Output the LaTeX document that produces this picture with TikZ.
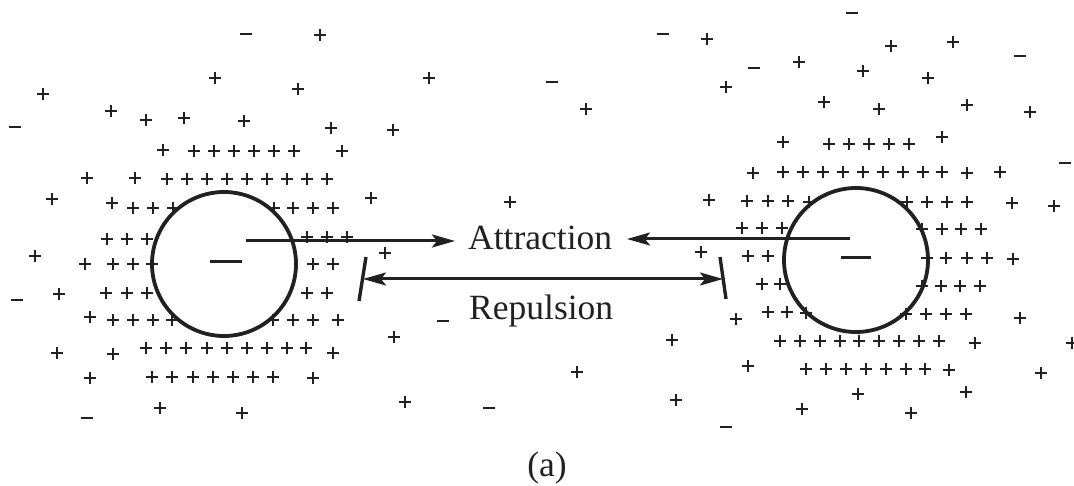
\documentclass[tikz,border=0pt]{standalone}
\usepackage{fontspec}
\setmainfont{Liberation Serif}
\usetikzlibrary{arrows.meta}
\definecolor{ink}{gray}{0.13}
\begin{document}
\begin{tikzpicture}[x=1pt,y=-1pt,
  plusline/.style={draw=ink, line width=2.5pt},
  minusline/.style={draw=ink, line width=2.4pt},
  bigminus/.style={draw=ink, line width=3pt},
  ring/.style={circle, draw=ink, line width=3.8pt, minimum size=144pt, inner sep=0pt},
  arr/.style={draw=ink, line width=3pt, -{Stealth[length=23pt,width=13pt,inset=5pt]}},
  arrboth/.style={draw=ink, line width=3pt, {Stealth[length=23pt,width=13pt,inset=5pt]}-{Stealth[length=23pt,width=13pt,inset=5pt]}},
  stopbar/.style={draw=ink, line width=3.4pt},
  lbl/.style={text=ink, font=\fontsize{35.5}{40}\selectfont, inner sep=0pt, anchor=base west}]
\useasboundingbox (0,0) rectangle (1074,486);
% plus charges
\foreach \x/\y in {
  215/78, 43/94, 111/111, 146/120, 184/118, 244/121, 298/89, 429/78, 331/128, 393/130, 320/35,
  163/150, 194/151, 214/151, 234/151, 254/151, 274/151, 294/151, 342/151,
  87/178, 135/178, 167/179, 187/179, 207/179, 227/179, 247/179, 267/179, 287/179, 307/179, 327/179,
  52/199, 371/198, 510/202,
  112/203, 133/208, 153/208, 173/208, 274/208, 293/208, 313/208, 333/208,
  107/239, 127/239, 147/239, 307/237, 327/237, 347/237,
  35/256, 385/253,
  85/264, 113/264, 133/264, 152/264, 313/264, 333/264,
  59/294, 106/293, 127/293, 147/293, 307/293, 327/293,
  90/317, 113/320, 133/320, 153/320, 172/320, 273/320, 293/320, 313/320, 338/320,
  394/337,
  57/353, 113/354, 146/348, 166/348, 186/348, 207/348, 227/348, 247/348, 267/348, 287/348, 306/348, 333/353,
  90/378, 152/377, 172/377, 193/377, 213/377, 233/377, 253/377, 273/377, 313/378,
  160/408, 242/413, 405/402,
  577/372, 676/400, 672/340, 736/319, 701/252,
  707/39, 953/42, 891/46, 799/62, 863/71, 928/78, 726/87, 586/109, 824/102, 967/105, 879/109, 1030/112, 942/137,
  783/142, 829/144, 849/144, 869/144, 889/144, 909/144,
  753/173, 783/172, 803/172, 823/172, 843/172, 863/172, 883/172, 903/172, 923/172, 942/172, 967/173, 1000/172,
  709/200, 747/201, 768/201, 788/201, 809/202, 907/202, 927/202, 947/202, 967/202, 1012/203, 1054/206,
  742/228, 762/228, 782/228, 922/229, 942/229, 961/229, 981/229,
  748/256, 768/256, 927/258, 946/258, 967/258, 987/258, 1013/259,
  762/284, 780/284, 922/286, 941/286, 960/286, 980/286,
  768/312, 787/312, 806/313, 906/314, 926/314, 946/314, 966/314, 1020/318,
  780/341, 800/341, 820/341, 840/341, 859/341, 879/341, 899/341, 919/341, 939/341, 975/343, 1072/343,
  748/366, 806/369, 826/369, 846/369, 866/369, 886/369, 906/369, 925/369, 949/370, 1041/373,
  858/394, 966/392, 802/409, 911/413}
  \draw[plusline] ({\x-6},\y) -- ({\x+6},\y) (\x,{\y-6}) -- (\x,{\y+6});
% minus charges
\foreach \x/\y in {246/34, 15/127, 17/300, 443/321, 87/418, 489/408, 726/427,
  852/13, 663/34, 552/82, 754/68, 1020/56, 1065/163}
  \draw[minusline] ({\x-6},\y) -- ({\x+6},\y);
% the two charged spheres
\node[ring] (L) at (224,264) {};
\node[ring] (R) at (856,260) {};
\draw[bigminus] (210,262) -- (242,262);
\draw[bigminus] (841,258) -- (871,258);
% labels
\node[lbl] (attr) at (468,250) {Attraction};
\node[lbl] (rep) at (469,320) {Repulsion};
\node[lbl, anchor=base] (cap) at (547,476) {(a)};
% attraction arrows
\coordinate (a1s) at (246,241);
\coordinate (a1e) at (455,241);
\coordinate (a2s) at (850,239);
\coordinate (a2e) at (627,239);
\draw[arr] (a1s) -- (a1e);
\draw[arr] (a2s) -- (a2e);
% repulsion arrow with stop bars
\coordinate (r1) at (363,279);
\coordinate (r2) at (723,279);
\coordinate (b1t) at (366,257);
\coordinate (b1b) at (359,301);
\coordinate (b2t) at (720,257);
\coordinate (b2b) at (726,299);
\draw[arrboth] (r1) -- (r2);
\draw[stopbar] (b1t) -- (b1b);
\draw[stopbar] (b2t) -- (b2b);
\end{tikzpicture}
\end{document}
